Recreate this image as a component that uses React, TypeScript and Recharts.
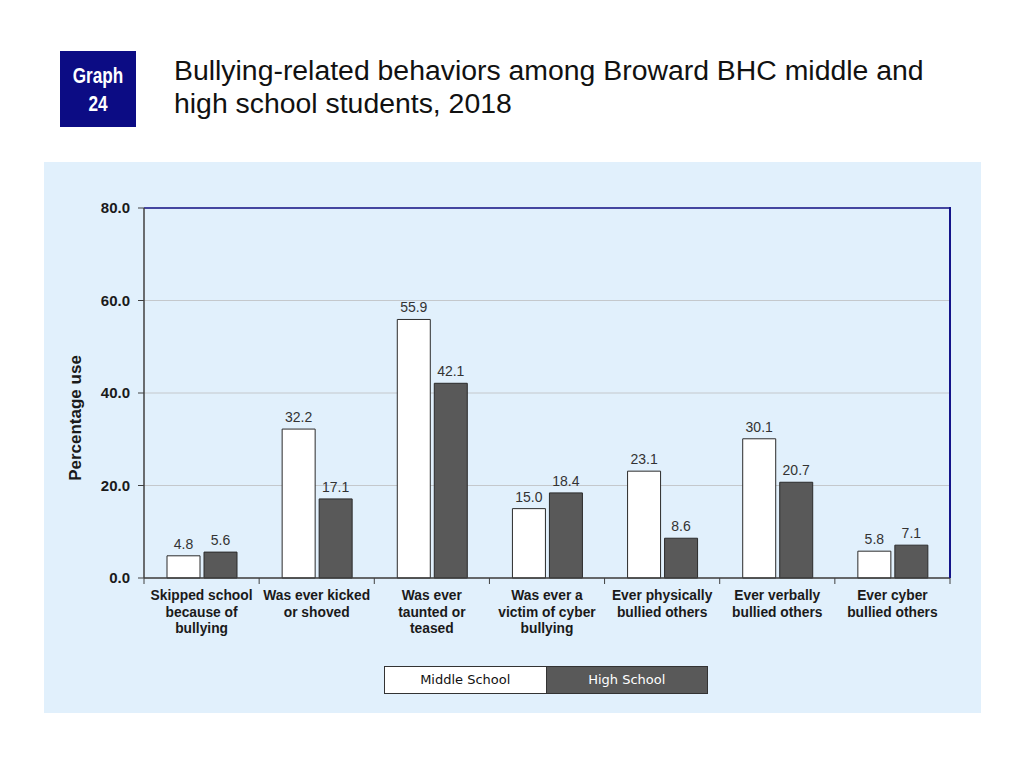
import React from 'react'
import {
  Bar,
  BarChart,
  CartesianGrid,
  LabelList,
  ReferenceLine,
  XAxis,
  YAxis,
} from 'recharts'

const categories = [
  ['Skipped school', 'because of', 'bullying'],
  ['Was ever kicked', 'or shoved'],
  ['Was ever', 'taunted or', 'teased'],
  ['Was ever a', 'victim of cyber', 'bullying'],
  ['Ever physically', 'bullied others'],
  ['Ever verbally', 'bullied others'],
  ['Ever cyber', 'bullied others'],
]
const middleSchool = [4.8, 32.2, 55.9, 15.0, 23.1, 30.1, 5.8]
const highSchool = [5.6, 17.1, 42.1, 18.4, 8.6, 20.7, 7.1]
const yTicks = [0, 20, 40, 60, 80]

const chartData = categories.map((lines, i) => ({
  name: lines.join(' '),
  middle: middleSchool[i],
  high: highSchool[i],
}))

const FONT = '"Liberation Sans", Arial, sans-serif'
const NAVY = '#14148a'
const BAND = (950 - 144) / categories.length

function CategoryTick(props: any) {
  const { x, y, index } = props
  const lines = categories[index] || []
  return (
    <g>
      <line x1={x + BAND / 2} y1={y - 8} x2={x + BAND / 2} y2={y - 2} stroke="#404040" />
      {index === 0 && (
        <line x1={x - BAND / 2} y1={y - 8} x2={x - BAND / 2} y2={y - 2} stroke="#404040" />
      )}
      {lines.map((line, i) => (
        <text
          key={i}
          x={x}
          y={y + 14 + i * 16.5}
          textAnchor="middle"
          fontFamily={FONT}
          fontWeight="bold"
          fontSize={13.8}
          fill="#1a1a1a"
        >
          {line}
        </text>
      ))}
    </g>
  )
}

export default function App() {
  return (
    <div
      style={{
        position: 'absolute',
        left: 0,
        top: 0,
        width: 1024,
        height: 768,
        background: '#ffffff',
        fontFamily: FONT,
      }}
    >
      <div
        style={{
          position: 'absolute',
          left: 60,
          top: 51,
          width: 76,
          height: 76,
          background: '#0c0c84',
        }}
      >
        <div
          style={{
            color: '#ffffff',
            fontFamily: FONT,
            fontWeight: 'bold',
            fontSize: 22,
            lineHeight: '28px',
            textAlign: 'center',
            paddingTop: 11,
            transform: 'scaleX(0.78)',
          }}
        >
          Graph
          <br />
          24
        </div>
      </div>
      <div
        style={{
          position: 'absolute',
          left: 174,
          top: 54,
          fontSize: 28.4,
          lineHeight: '33px',
          color: '#111111',
          whiteSpace: 'nowrap',
        }}
      >
        Bullying-related behaviors among Broward BHC middle and
        <br />
        high school students, 2018
      </div>
      <div
        style={{
          position: 'absolute',
          left: 44,
          top: 162,
          width: 937,
          height: 551,
          background: '#e1f0fc',
        }}
      >
        <BarChart
          width={937}
          height={551}
          data={chartData}
          margin={{ top: 46, right: 31, left: 0, bottom: 0 }}
          barGap={4}
          barSize={33}
        >
          <CartesianGrid vertical={false} stroke="#c4c8cc" />
          <XAxis
            dataKey="name"
            height={135}
            interval={0}
            tickLine={false}
            axisLine={{ stroke: '#404040', strokeWidth: 1.5 }}
            tick={<CategoryTick />}
          />
          <YAxis
            width={100}
            domain={[0, 80]}
            ticks={yTicks}
            interval={0}
            tickFormatter={(v: number) => v.toFixed(1)}
            axisLine={{ stroke: '#404040', strokeWidth: 1.5 }}
            tickLine={{ stroke: '#404040' }}
            tickSize={6}
            tickMargin={8}
            tick={{ fontFamily: FONT, fontWeight: 'bold', fontSize: 15, fill: '#1a1a1a' }}
            label={{
              value: 'Percentage use',
              angle: -90,
              position: 'insideLeft',
              offset: 0,
              dx: 31,
              dy: 25,
              style: { textAnchor: 'middle', fontFamily: FONT, fontWeight: 'bold', fontSize: 17, fill: '#1a1a1a' },
            }}
          />
          <ReferenceLine y={80} stroke={NAVY} strokeWidth={1.5} />
          <Bar dataKey="middle" fill="#ffffff" stroke="#2b2b2b" strokeWidth={1} isAnimationActive={false}>
            <LabelList
              dataKey="middle"
              position="top"
              offset={7}
              formatter={(v: number) => v.toFixed(1)}
              style={{ fontFamily: FONT, fontSize: 14, fill: '#333333' }}
            />
          </Bar>
          <Bar dataKey="high" fill="#595959" stroke="#2b2b2b" strokeWidth={1} isAnimationActive={false}>
            <LabelList
              dataKey="high"
              position="top"
              offset={7}
              formatter={(v: number) => v.toFixed(1)}
              style={{ fontFamily: FONT, fontSize: 14, fill: '#333333' }}
            />
          </Bar>
        </BarChart>
        {/* right frame edge of the plot area */}
        <div
          style={{
            position: 'absolute',
            left: 905,
            top: 45,
            width: 2,
            height: 371,
            background: NAVY,
          }}
        />
        <div
          style={{
            position: 'absolute',
            left: 340,
            top: 504,
            width: 324,
            height: 28,
            display: 'flex',
            border: '1px solid #333333',
            boxSizing: 'border-box',
            fontFamily: '"DejaVu Sans", sans-serif',
            fontSize: 13,
          }}
        >
          <div
            style={{
              flex: 1,
              background: '#ffffff',
              color: '#111111',
              textAlign: 'center',
              lineHeight: '26px',
              borderRight: '1px solid #333333',
            }}
          >
            Middle School
          </div>
          <div
            style={{
              flex: 1,
              background: '#595959',
              color: '#ffffff',
              textAlign: 'center',
              lineHeight: '26px',
            }}
          >
            High School
          </div>
        </div>
      </div>
    </div>
  )
}
